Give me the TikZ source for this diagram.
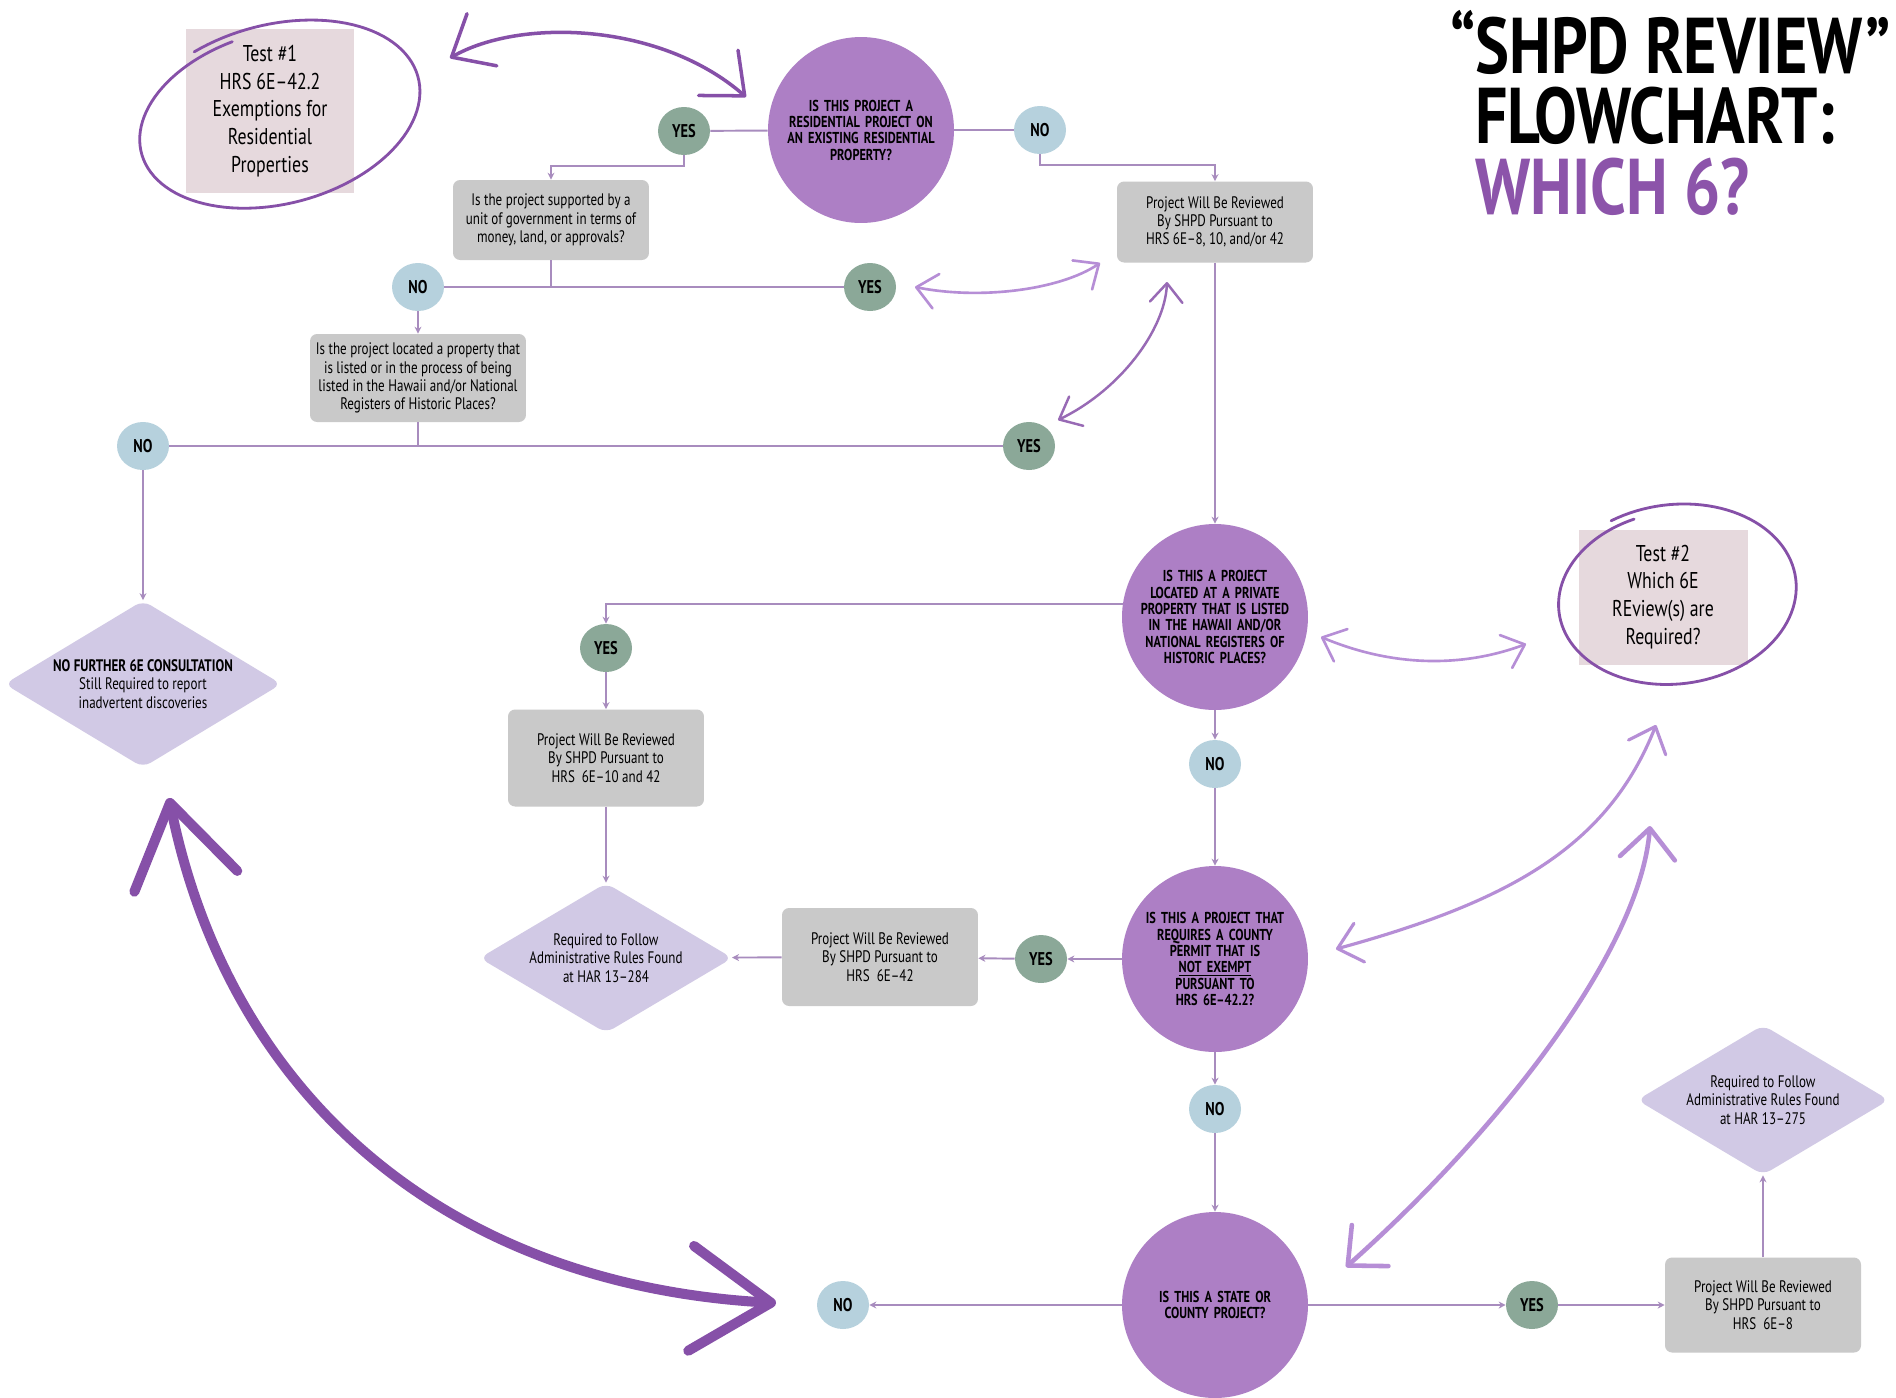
\documentclass[tikz,border=0pt]{standalone}
\usepackage{fontspec}
\setmainfont{PT Sans}[FakeStretch=0.78]
\newfontfamily\titlefont{PT Sans}[FakeStretch=0.81]
\usetikzlibrary{arrows.meta,positioning,shapes.geometric}

\definecolor{qpurple}{RGB}{173,127,197}
\definecolor{yesgreen}{RGB}{139,168,152}
\definecolor{noblue}{RGB}{182,209,221}
\definecolor{revgray}{RGB}{201,201,201}
\definecolor{rulelav}{RGB}{209,201,229}
\definecolor{testpink}{RGB}{230,217,221}
\definecolor{linkpurple}{RGB}{168,140,190}
\definecolor{darkpurple}{RGB}{134,80,168}
\definecolor{lightpurple}{RGB}{182,142,214}
\definecolor{titlepurple}{RGB}{140,84,170}

\begin{document}
\begin{tikzpicture}[
    x=0.02cm, y=-0.02cm,
    question/.style={circle, fill=qpurple, minimum size=3.72cm, inner sep=0pt, text width=3.2cm, align=center, font=\fontsize{9}{9.3}\selectfont\bfseries},
    yesnode/.style={ellipse, fill=yesgreen, minimum width=1.04cm, minimum height=0.96cm, inner sep=0pt, font=\fontsize{10.5}{11}\selectfont\bfseries},
    nonode/.style={yesnode, fill=noblue},
    review/.style={rectangle, rounded corners=4pt, fill=revgray, minimum width=3.92cm, align=center, font=\fontsize{9.5}{10.4}\selectfont},
    rulebox/.style={diamond, aspect=1.7, rounded corners=5pt, fill=rulelav, inner sep=0pt, align=center, font=\fontsize{9.5}{10.4}\selectfont},
    testbox/.style={rectangle, fill=testpink, minimum width=3.38cm, align=center, font=\fontsize{13}{15.8}\selectfont},
    titletext/.style={inner sep=0pt, anchor=base west, align=left, font=\titlefont\fontsize{45}{40}\selectfont\bfseries},
    flow/.style={draw=linkpurple, line width=1.1pt, -{Stealth[length=4pt,width=4pt]}},
    link/.style={draw=linkpurple, line width=1.1pt},
    hand/.style={draw=darkpurple, line width=1.6pt, line cap=round},
    sketch/.style args={#1/#2}{line cap=round, {Straight Barb[length=#1,width=#2,round]}-{Straight Barb[length=#1,width=#2,round]}}
]
\useasboundingbox (0,0) rectangle (1896,1397);
\fill[white] (0,0) rectangle (1896,1397);

% title
\node[titletext] (title) at (1475,214) {\llap{“}SHPD REVIEW”\\FLOWCHART:\\\textcolor{titlepurple}{WHICH 6?}};

% test boxes
\node[testbox, minimum height=3.28cm] (test1) at (270,111) {Test \#1\\HRS 6E--42.2\\Exemptions for\\Residential\\Properties};
\node[testbox, minimum height=2.7cm] (test2) at (1663,597) {Test \#2\\Which 6E\\REview(s) are\\Required?};

% first question
\node[question] (resq) at (861,130) {IS THIS PROJECT A\\RESIDENTIAL PROJECT ON\\AN EXISTING RESIDENTIAL\\PROPERTY?};
\node[yesnode] (yes1) at (684,131) {YES};
\node[nonode] (no1) at (1040,130) {NO};
\node[review, minimum height=1.6cm] (govq) at (551,220) {Is the project supported by a\\unit of government in terms of\\money, land, or approvals?};
\node[review, minimum height=1.62cm] (rev1) at (1215,222) {Project Will Be Reviewed\\By SHPD Pursuant to\\HRS 6E--8, 10, and/or 42};
\node[nonode] (no2) at (418,287) {NO};
\node[yesnode] (yes2) at (870,287) {YES};
\node[review, minimum width=4.16cm, minimum height=1.76cm] (regq) at (418,378) {Is the project located a property that\\is listed or in the process of being\\listed in the Hawaii and/or National\\Registers of Historic Places?};
\node[nonode] (no3) at (143,446) {NO};
\node[yesnode] (yes3) at (1029,446) {YES};
\node[rulebox, minimum width=5.54cm, minimum height=3.34cm] (nofurther) at (143,684) {{\bfseries NO FURTHER 6E CONSULTATION}\\Still Required to report\\inadvertent discoveries};

% private property
\node[question] (privq) at (1215,617) {IS THIS A PROJECT\\LOCATED AT A PRIVATE\\PROPERTY THAT IS LISTED\\IN THE HAWAII AND/OR\\NATIONAL REGISTERS OF\\HISTORIC PLACES?};
\node[yesnode] (yes4) at (606,648) {YES};
\node[review, minimum height=1.94cm] (rev2) at (606,758) {Project Will Be Reviewed\\By SHPD Pursuant to\\HRS~ 6E--10 and 42};
\node[rulebox, minimum width=5.06cm, minimum height=3cm] (rule284) at (606,958) {Required to Follow\\Administrative Rules Found\\at HAR 13--284};
\node[nonode] (no4) at (1215,764) {NO};

% county permit
\node[question] (countyq) at (1215,959) {IS THIS A PROJECT THAT\\REQUIRES A COUNTY\\PERMIT THAT IS\\\underline{NOT EXEMPT}\\PURSUANT TO\\HRS 6E--42.2?};
\node[yesnode] (yes5) at (1041,959) {YES};
\node[review, minimum height=1.96cm] (rev3) at (880,957) {Project Will Be Reviewed\\By SHPD Pursuant to\\HRS~ 6E--42};
\node[nonode] (no5) at (1215,1109) {NO};

% state or county
\node[question] (stateq) at (1215,1305) {IS THIS A STATE OR\\COUNTY PROJECT?};
\node[nonode] (no6) at (843,1305) {NO};
\node[yesnode] (yes6) at (1532,1305) {YES};
\node[review, minimum height=1.9cm] (rev4) at (1763,1305) {Project Will Be Reviewed\\By SHPD Pursuant to\\HRS~ 6E--8};
\node[rulebox, minimum width=5.04cm, minimum height=3cm] (rule275) at (1763,1100) {Required to Follow\\Administrative Rules Found\\at HAR 13--275};

% flow lines
\draw[link] (yes1) -- (resq);
\draw[link] (resq) -- (no1);
\draw[flow] (yes1.south) -- ++(0,11) -| (govq.north);
\draw[flow] (no1.south) -- ++(0,11) -| (rev1.north);
\draw[link] (govq.south) -- (govq.south |- no2.east);
\draw[link] (no2) -- (yes2);
\draw[flow] (no2) -- (regq);
\draw[link] (regq.south) -- (regq.south |- no3.east);
\draw[link] (no3) -- (yes3);
\draw[flow] (no3) -- (nofurther);
\draw[flow] (rev1) -- (privq);
\draw[flow] (privq.172) -| (yes4);
\draw[flow] (yes4) -- (rev2);
\draw[flow] (rev2) -- (rule284);
\draw[flow] (privq) -- (no4);
\draw[flow] (no4) -- (countyq);
\draw[flow] (countyq) -- (yes5);
\draw[flow] (yes5) -- (rev3);
\draw[flow] (rev3) -- (rule284);
\draw[flow] (countyq) -- (no5);
\draw[flow] (no5) -- (stateq);
\draw[flow] (stateq) -- (no6);
\draw[flow] (stateq) -- (yes6);
\draw[flow] (yes6) -- (rev4);
\draw[flow] (rev4) -- (rule275);

% hand drawn rings
\begin{scope}[shift={(277,116)}, rotate=15]
  \draw[hand] plot[domain=245:620, samples=120] ({150*(1-0.00022*(\x-245))*cos(\x)}, {92*(1-0.00022*(\x-245))*sin(\x)});
\end{scope}
\begin{scope}[shift={(1675,596)}, rotate=8]
  \draw[hand] plot[domain=245:615, samples=120] ({125*(1-0.00022*(\x-245))*cos(\x)}, {92*(1-0.00022*(\x-245))*sin(\x)});
\end{scope}

% sketched arrows
\coordinate (t1tip) at (450,58);
\coordinate (restip) at (746,97);
\draw[sketch=0.7cm/1.2cm, draw=darkpurple, line width=2pt] (t1tip) .. controls (520,18) and (660,22) .. (restip);
\coordinate (yes2tip) at (915,287);
\coordinate (rev1tip) at (1100,263);
\draw[sketch=0.4cm/0.7cm, draw=lightpurple, line width=1.5pt] (yes2tip) .. controls (980,300) and (1060,290) .. (rev1tip);
\coordinate (yes3tip) at (1058,420);
\coordinate (rev1low) at (1167,282);
\draw[sketch=0.38cm/0.65cm, draw=darkpurple!85, line width=1.4pt] (yes3tip) .. controls (1120,390) and (1165,330) .. (rev1low);
\coordinate (privtip) at (1321,637);
\coordinate (test2left) at (1526,644);
\draw[sketch=0.4cm/0.7cm, draw=lightpurple, line width=1.5pt] (privtip) .. controls (1400,670) and (1470,665) .. (test2left);
\coordinate (countytip) at (1336,949);
\coordinate (test2low) at (1656,725);
\draw[sketch=0.45cm/0.8cm, draw=lightpurple, line width=1.8pt] (countytip) .. controls (1511,901) and (1608,846) .. (test2low);
\coordinate (statetip) at (1346,1267);
\coordinate (test2base) at (1650,826);
\draw[sketch=0.6cm/1.1cm, draw=lightpurple, line width=2.6pt] (statetip) .. controls (1500,1130) and (1640,950) .. (test2base);
\coordinate (bigtop) at (169,798);
\coordinate (bigbot) at (776,1303);
\draw[sketch=1.6cm/2.1cm, draw=darkpurple, line width=5.7pt] (bigtop) .. controls (230,1100) and (450,1285) .. (bigbot);
\end{tikzpicture}
\end{document}
